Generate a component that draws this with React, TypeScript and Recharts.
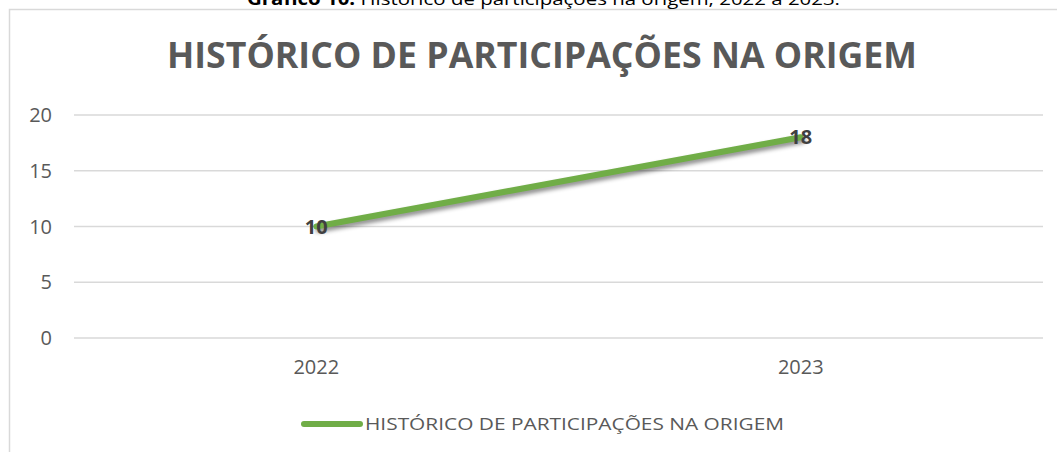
import { LineChart, Line, XAxis, YAxis, CartesianGrid, Legend, LabelList } from 'recharts';

const YEARS = ['2022', '2023'];
const PARTICIPACOES = [10, 18];
const Y_TICKS = [0, 5, 10, 15, 20];
const SERIES_NAME = 'HISTÓRICO DE PARTICIPAÇÕES NA ORIGEM';
const TITLE = 'HISTÓRICO DE PARTICIPAÇÕES NA ORIGEM';

const data = YEARS.map((year, i) => ({ year, value: PARTICIPACOES[i] }));

const GREEN = '#70ad47';
const TEXT = '#595959';
const GRID = '#d9d9d9';
const FONT = '"Open Sans", "Noto Sans", sans-serif';

function LegendContent() {
  return (
    <svg width={520} height={45} style={{ display: 'block' }}>
      <line x1={6} y1={25} x2={62} y2={25} stroke={GREEN} strokeWidth={6} strokeLinecap="round" />
      <text
        x={67}
        y={31}
        fontSize={16}
        fill={TEXT}
        fontFamily={FONT}
        textLength={419}
        lengthAdjust="spacingAndGlyphs"
      >
        {SERIES_NAME}
      </text>
    </svg>
  );
}

export default function App() {
  return (
    <div style={{ position: 'absolute', left: 0, top: 0, width: 1057, height: 452, background: '#fff', overflow: 'hidden' }}>
      <style>{`.shadow-line .recharts-line-curve { filter: drop-shadow(2px 3px 2px rgba(0,0,0,0.45)); }`}</style>
      {/* chart frame + caption (cut at the top, as in the source) + title */}
      <svg width={1057} height={452} style={{ position: 'absolute', left: 0, top: 0 }}>
        <rect x={9.5} y={9.5} width={1100} height={500} fill="none" stroke={GRID} strokeWidth={1.5} />
        <text x={247} y={4.5} fontSize={17} fill="#000" fontFamily={FONT} textLength={593} lengthAdjust="spacingAndGlyphs">
          <tspan fontWeight="bold">Gráfico 10:</tspan> Histórico de participações na origem, 2022 a 2023.
        </text>
        <text
          x={167}
          y={68}
          fontSize={35}
          fontWeight="bold"
          fill={TEXT}
          fontFamily={FONT}
          textLength={750}
          lengthAdjust="spacingAndGlyphs"
        >
          {TITLE}
        </text>
      </svg>
      <div style={{ position: 'absolute', left: 0, top: 0 }}>
        <LineChart width={1057} height={452} data={data} margin={{ top: 115, right: 14, left: 10, bottom: 8 }}>
          <CartesianGrid vertical={false} stroke={GRID} strokeWidth={1.5} />
          <XAxis
            dataKey="year"
            scale="band"
            axisLine={false}
            tickLine={false}
            tickSize={0}
            tickMargin={22}
            height={61}
            tick={{ fontSize: 20, fill: TEXT, fontFamily: FONT }}
          />
          <YAxis
            domain={[0, 20]}
            ticks={Y_TICKS}
            axisLine={false}
            tickLine={false}
            tickSize={0}
            tickMargin={22}
            width={64}
            tick={{ fontSize: 20, fill: TEXT, fontFamily: FONT }}
          />
          <Legend verticalAlign="bottom" align="left" height={45} wrapperStyle={{ left: 298 }} content={LegendContent} />
          <Line
            className="shadow-line"
            type="linear"
            dataKey="value"
            name={SERIES_NAME}
            stroke={GREEN}
            strokeWidth={6}
            strokeLinecap="round"
            dot={false}
            isAnimationActive={false}
          >
            <LabelList dataKey="value" position="center" fontSize={20} fontWeight="bold" fill="#404040" fontFamily={FONT} />
          </Line>
        </LineChart>
      </div>
    </div>
  );
}
